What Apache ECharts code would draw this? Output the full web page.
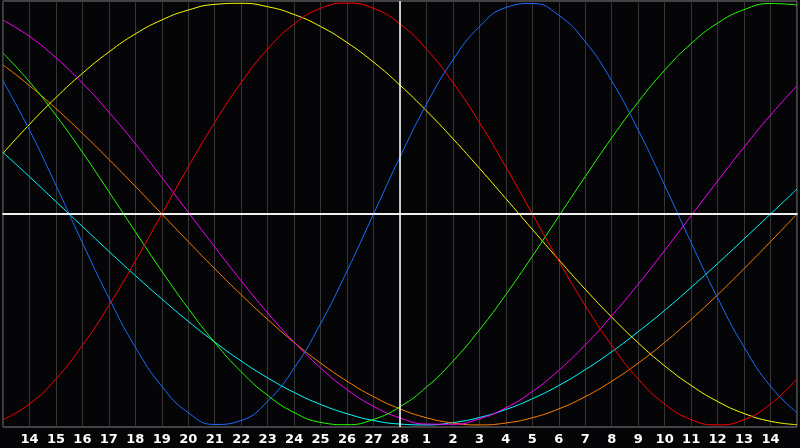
<!DOCTYPE html>
<html>
<head>
<meta charset="utf-8">
<script src="https://cdn.jsdelivr.net/npm/echarts@6/dist/echarts.min.js"></script>
<style>
html,body{margin:0;padding:0;background:#050508;overflow:hidden;}
#c{width:800px;height:448px;}
</style>
</head>
<body>
<div id="c"></div>
<script>
// Day labels (first and last grid slots have no label)
var categories = ['', '14','15','16','17','18','19','20','21','22','23','24','25','26','27','28',
  '1','2','3','4','5','6','7','8','9','10','11','12','13','14', ''];

// Cycle values (-100 .. 100), one per day slot
var blue    = [63.1,39.8,13.6,-13.6,-39.8,-63.1,-81.7,-94.2,-99.8,-97.9,-88.8,-73.1,-52.0,-27.0,0,27.0,52.0,73.1,88.8,97.9,99.8,94.2,81.7,63.1,39.8,13.6,-13.6,-39.8,-63.1,-81.7,-94.2];
var red     = [-97.5,-90.1,-78.2,-62.3,-43.4,-22.3,0,22.3,43.4,62.3,78.2,90.1,97.5,100,97.5,90.1,78.2,62.3,43.4,22.3,0,-22.3,-43.4,-62.3,-78.2,-90.1,-97.5,-100,-97.5,-90.1,-78.2];
var green   = [76.3,62.7,46.8,29.3,10.6,-8.4,-27.1,-44.8,-60.9,-74.8,-86.0,-94.1,-98.8,-99.9,-97.4,-91.4,-82.1,-69.8,-55.0,-38.2,-20.0,-1.1,17.8,36.1,53.1,68.2,80.8,90.5,96.9,99.8,99.1];
var magenta = [91.9,84.2,74.1,62.1,48.3,33.3,17.3,0.8,-15.6,-31.7,-46.9,-60.8,-73.0,-83.3,-91.2,-96.7,-99.6,-99.7,-97.1,-91.9,-84.2,-74.1,-62.1,-48.3,-33.3,-17.3,-0.8,15.6,31.7,46.9,60.8];
var yellow  = [28.8,42.5,55.2,66.7,76.8,85.4,92.0,96.7,99.4,99.9,98.3,94.6,88.9,81.3,72.0,61.1,48.9,35.7,21.7,7.3,-7.3,-21.7,-35.7,-48.9,-61.1,-72.0,-81.3,-88.9,-94.6,-98.3,-99.9];
var orange  = [70.7,60.9,50.0,38.3,25.9,13.1,0,-13.1,-25.9,-38.3,-50.0,-60.9,-70.7,-79.3,-86.6,-92.4,-96.6,-99.1,-100,-99.1,-96.6,-92.4,-86.6,-79.3,-70.7,-60.9,-50.0,-38.3,-25.9,-13.1,0];
var cyan    = [29.2,17.7,5.9,-5.9,-17.7,-29.2,-40.3,-50.9,-60.7,-69.7,-77.7,-84.6,-90.3,-94.7,-97.9,-99.6,-100.0,-98.9,-96.5,-92.7,-87.6,-81.3,-73.8,-65.3,-55.8,-45.7,-34.8,-23.5,-11.8,0,11.8];

var todayIndex = 15;

function mk(name, data, color) {
  return {
    name: name, type: 'line', data: data, smooth: 0.5, symbol: 'none',
    lineStyle: {color: color, width: 1}, itemStyle: {color: color},
    animation: false, z: 3
  };
}

var chart = echarts.init(document.getElementById('c'), null, {renderer: 'canvas'});
chart.setOption({
  backgroundColor: '#050508',
  animation: false,
  grid: {left: 0, right: -1, top: 1, bottom: 21, show: true, borderColor: '#808080', borderWidth: 1, backgroundColor: '#050508'},
  xAxis: {
    type: 'category', data: categories, boundaryGap: false,
    axisLine: {show: true, lineStyle: {color: '#c0c0c0', width: 2}},
    axisTick: {show: false},
    axisLabel: {color: '#ffffff', fontWeight: 'bold', fontSize: 13, fontFamily: 'DejaVu Sans', margin: 6, interval: 0},
    splitLine: {show: true, interval: 0, lineStyle: {color: '#353535', width: 1}}
  },
  yAxis: {
    type: 'value', min: -101, max: 101,
    axisLine: {show: false}, axisTick: {show: false}, axisLabel: {show: false},
    splitLine: {show: false}
  },
  series: [
    {
      type: 'line', data: [], symbol: 'none', silent: true,
      markLine: {
        symbol: 'none', silent: true, animation: false,
        label: {show: false},
        lineStyle: {color: '#ffffff', width: 1.5, type: 'solid'},
        data: [{yAxis: 0}, {xAxis: todayIndex}]
      }, z: 2
    },
    mk('cyan', cyan, '#00ffff'),
    mk('orange', orange, '#ff8000'),
    mk('yellow', yellow, '#ffff00'),
    mk('magenta', magenta, '#ff00ff'),
    mk('green', green, '#22ff00'),
    mk('red', red, '#ff0000'),
    mk('blue', blue, '#1a6cff')
  ]
});
</script>
</body>
</html>
